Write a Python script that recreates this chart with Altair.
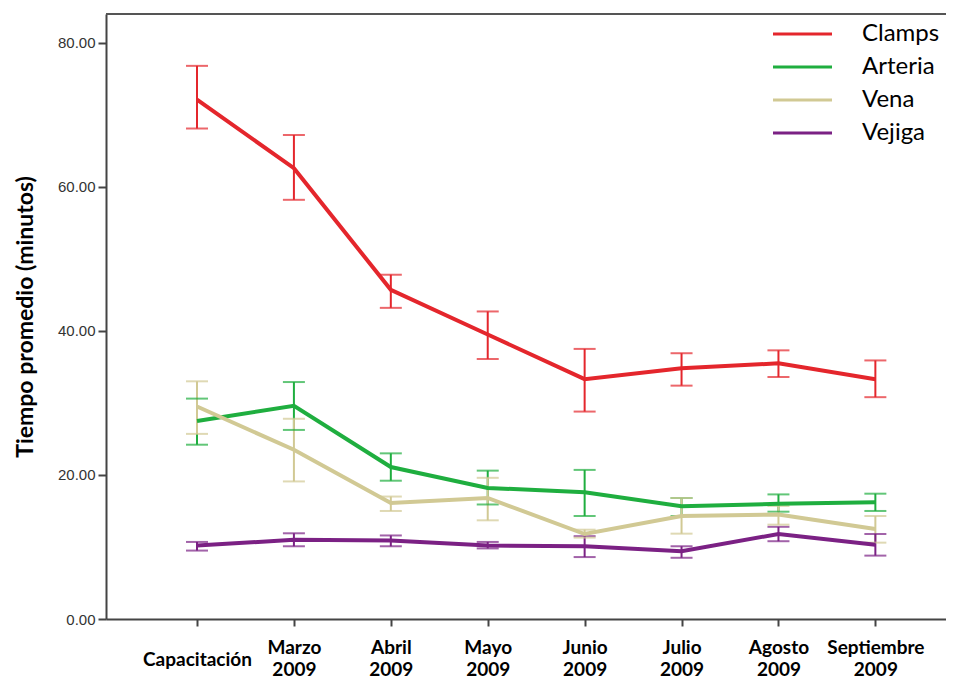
import altair as alt
import pandas as pd

categories = ["Capacitación", "Marzo 2009", "Abril 2009", "Mayo 2009",
              "Junio 2009", "Julio 2009", "Agosto 2009", "Septiembre 2009"]
series = ["Clamps", "Arteria", "Vena", "Vejiga"]
colors = ["#e4262c", "#1fae3f", "#d1c994", "#7b2184"]

clamps_mean = [72.1, 62.6, 45.7, 39.5, 33.3, 34.8, 35.5, 33.3]
clamps_hi = [76.8, 67.2, 47.8, 42.7, 37.5, 36.9, 37.3, 35.9]
clamps_lo = [68.1, 58.2, 43.2, 36.1, 28.8, 32.4, 33.6, 30.8]

arteria_mean = [27.5, 29.6, 21.1, 18.2, 17.6, 15.65, 16.0, 16.2]
arteria_hi = [30.6, 32.9, 23.0, 20.6, 20.7, 16.8, 17.3, 17.4]
arteria_lo = [24.2, 26.25, 19.2, 15.9, 14.3, 14.3, 14.9, 15.0]

vena_mean = [29.5, 23.5, 16.1, 16.8, 11.8, 14.3, 14.5, 12.5]
vena_hi = [33.0, 27.8, 17.0, 19.6, 12.4, 16.8, 15.7, 14.3]
vena_lo = [25.7, 19.1, 15.0, 13.7, 11.3, 11.85, 13.1, 10.6]

vejiga_mean = [10.2, 11.0, 10.9, 10.2, 10.1, 9.4, 11.8, 10.3]
vejiga_hi = [10.7, 11.9, 11.6, 10.7, 11.5, 10.1, 12.8, 11.8]
vejiga_lo = [9.5, 10.1, 10.1, 9.8, 8.6, 8.5, 10.8, 8.8]

means = [clamps_mean, arteria_mean, vena_mean, vejiga_mean]
his = [clamps_hi, arteria_hi, vena_hi, vejiga_hi]
los = [clamps_lo, arteria_lo, vena_lo, vejiga_lo]

rows = []
for s, m, h, l in zip(series, means, his, los):
    for i, c in enumerate(categories):
        rows.append({"period": c, "series": s, "mean": m[i], "hi": h[i], "lo": l[i],
                     "order": series.index(s)})
df = pd.DataFrame(rows)

W, H = 840, 605
color_scale = alt.Scale(domain=series, range=colors)

x_enc = alt.X(
    "period:N", sort=categories,
    scale=alt.Scale(type="point", padding=0.834, align=0.563),
    axis=alt.Axis(
        title=None, labelExpr="split(datum.label, ' ')", labelAngle=0,
        labelBaseline="top", labelAlign="center",
        labelPadding={"condition": {"test": "datum.value == 'Capacitación'", "value": 24},
                      "value": 12},
        labelFont="Lato", labelFontWeight="bold", labelFontSize=19,
        labelLineHeight=22, labelColor="#000", tickSize=7, tickWidth=2,
        tickColor="#444", domainColor="#444", domainWidth=2,
    ),
)
y_scale = alt.Scale(domain=[0, 84], nice=False)
y_axis = alt.Axis(
    title="Tiempo promedio (minutos)", values=[0, 20, 40, 60, 80], format=".2f",
    labelFont="Liberation Sans", labelFontSize=15, labelColor="#333", labelPadding=3,
    tickSize=8, tickWidth=2, tickColor="#444", domainColor="#444", domainWidth=2,
    grid=False, titleFont="Lato", titleFontWeight="bold", titleFontSize=23,
    titleColor="#000", titlePadding=20,
)

base = alt.Chart(df)
col = alt.Color("series:N", scale=color_scale, legend=None)

rules = base.mark_rule(strokeWidth=2).encode(
    x=x_enc, y=alt.Y("lo:Q", scale=y_scale, axis=y_axis), y2="hi:Q", color=col)
tick_hi = base.mark_tick(size=22, thickness=2, orient="horizontal").encode(
    x=alt.X("period:N", sort=categories), y=alt.Y("hi:Q"), color=col)
tick_lo = base.mark_tick(size=22, thickness=2, orient="horizontal").encode(
    x=alt.X("period:N", sort=categories), y=alt.Y("lo:Q"), color=col)
lines = base.mark_line(strokeWidth=4).encode(
    x=alt.X("period:N", sort=categories), y=alt.Y("mean:Q"), color=col,
    detail="series:N", order="order:Q")

border = alt.Chart(pd.DataFrame({"a": [0]})).mark_rule(
    color="#555", strokeWidth=2).encode(
    x=alt.value(0), x2=alt.value(W), y=alt.value(0))

main = alt.layer(rules, tick_hi, tick_lo, lines, border)

leg_df = pd.DataFrame({"series": series})
leg_y = alt.Y("series:N", sort=series,
              scale=alt.Scale(type="point", range=[20, 119], padding=0), axis=None)
leg_rule = alt.Chart(leg_df).mark_rule(strokeWidth=3).encode(
    x=alt.value(667), x2=alt.value(726), y=leg_y, color=col)
leg_text = alt.Chart(leg_df).mark_text(
    align="left", baseline="middle", font="Lato", fontSize=24, color="#000").encode(
    x=alt.value(756), y=leg_y, text="series:N")
legend = alt.layer(leg_rule, leg_text)

chart = alt.layer(main, legend).resolve_scale(y="independent").properties(
    width=W, height=H,
    autosize=alt.AutoSizeParams(type="none"),
    padding={"left": 98, "top": 6, "right": 0, "bottom": 64},
).configure_view(stroke=None).configure(background="#ffffff")

chart.save("out.html", embed_options={"renderer": "svg", "actions": False})
